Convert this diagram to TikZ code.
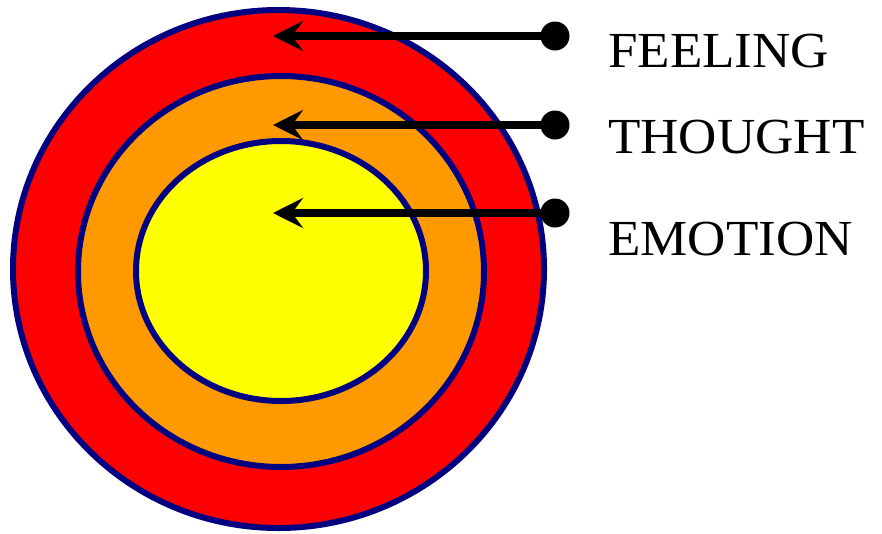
\documentclass[tikz,border=0pt]{standalone}
\usepackage{fontspec}
\setmainfont{Liberation Serif}
\usetikzlibrary{arrows.meta}
\definecolor{ringnavy}{HTML}{000080}
\definecolor{ringorange}{HTML}{FF9900}
\definecolor{ringred}{HTML}{FF0000}
\definecolor{ringyellow}{HTML}{FFFF00}
\tikzset{
  ring/.style={draw=ringnavy, line width=6pt},
  dotnode/.style={circle, fill=black, inner sep=0pt, minimum size=29pt},
  pointer/.style={line width=8pt, -{Stealth[length=30pt, width=30pt, inset=11pt]}},
  lbl/.style={anchor=base west, inner sep=0pt, xscale=1.05, transform shape, font=\fontsize{50.5}{60}\selectfont}
}
\begin{document}
\begin{tikzpicture}[x=1pt, y=-1pt]
\useasboundingbox (0,0) rectangle (882,533);
\draw[ring, fill=ringred] (278.5,269) ellipse [x radius=265.5, y radius=259];
\draw[ring, fill=ringorange] (281,271.5) ellipse [x radius=203, y radius=195.5];
\draw[ring, fill=ringyellow] (281,271) ellipse [x radius=145, y radius=130];

\node[dotnode] (fdot) at (555,36) {};
\node[dotnode] (tdot) at (555,125) {};
\node[dotnode] (edot) at (555,213) {};
\coordinate (ftip) at (273,36);
\coordinate (ttip) at (273,125);
\coordinate (etip) at (273,213);
\draw[pointer] (fdot.center) -- (ftip);
\draw[pointer] (tdot.center) -- (ttip);
\draw[pointer] (edot.center) -- (etip);

\node[lbl] (feeling) at (608,67) {FEELING};
\node[lbl] (thought) at (608,153) {THOUGHT};
\node[lbl] (emotion) at (608,255) {EMOTION};
\end{tikzpicture}
\end{document}
